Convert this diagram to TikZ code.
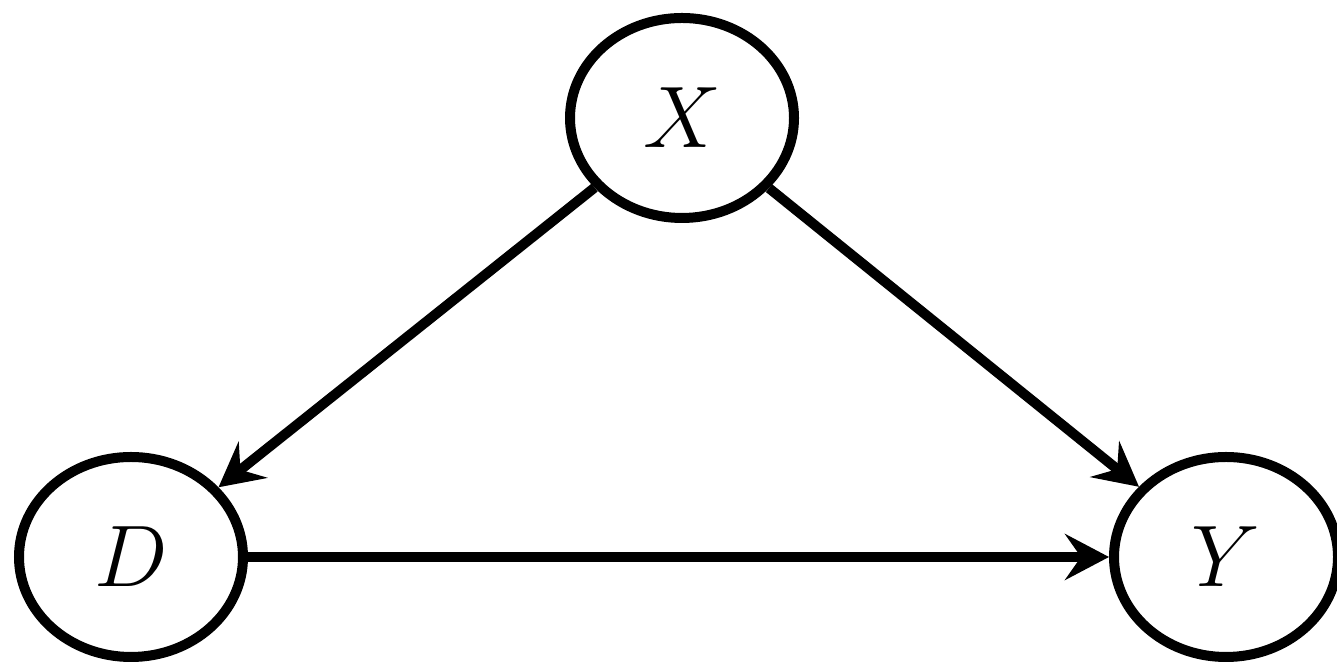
\documentclass[tikz,border=0pt]{standalone}
\usetikzlibrary{arrows.meta,shapes.geometric}
\begin{document}
\begin{tikzpicture}[
  var/.style={draw, ellipse, line width=0.1cm, minimum width=2.24cm, minimum height=2.0cm, inner sep=0pt, font=\fontsize{24}{28}\selectfont},
  edge/.style={line width=0.1cm, -{Stealth[length=0.44cm,width=0.46cm,inset=0.16cm]}}
]
\useasboundingbox (0,0) rectangle (13.37,6.62);
\node[var] (X) at (6.82,5.44) {$X$};
\node[var] (D) at (1.31,1.05) {$D$};
\node[var] (Y) at (12.26,1.05) {$Y$};
\draw[edge] (X) -- (D);
\draw[edge] (X) -- (Y);
\draw[edge] (D) -- (Y);
\end{tikzpicture}
\end{document}
